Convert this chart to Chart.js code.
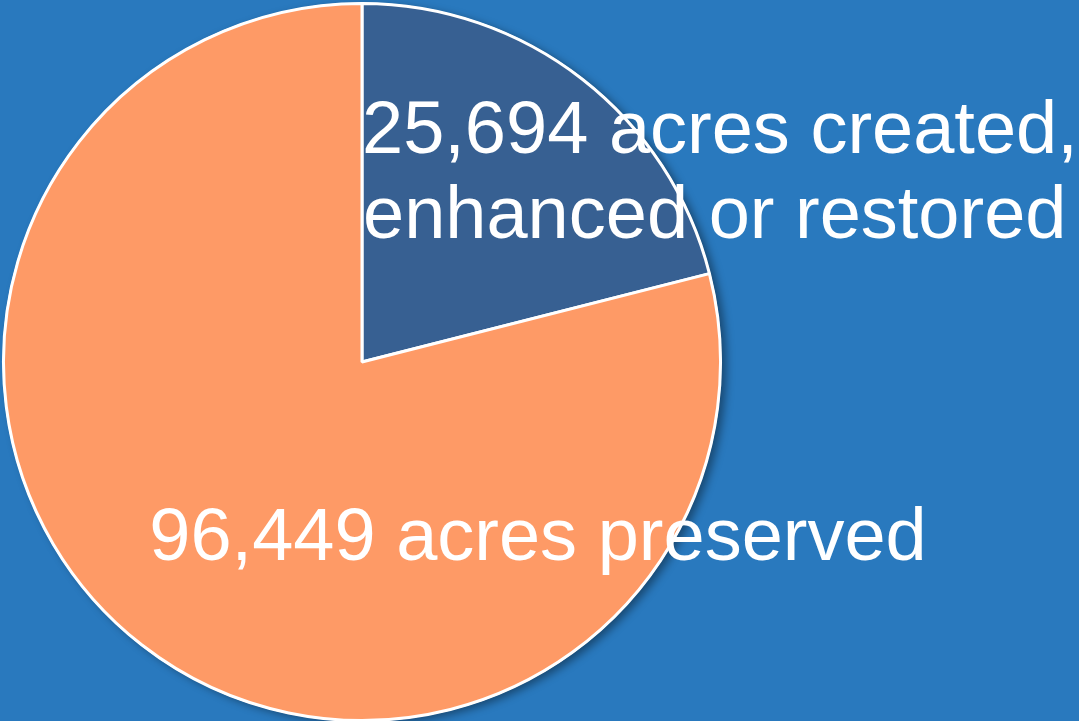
<!DOCTYPE html>
<html lang="en">
<head>
  <meta charset="UTF-8">
  <title>Acres</title>
  <script src="https://cdn.jsdelivr.net/npm/chart.js"></script>
  <style>
    html, body { margin: 0; padding: 0; background: #2979BE; overflow: hidden; }
    #wrap { position: absolute; left: 0; top: 0; width: 1079px; height: 724px; }
  </style>
</head>
<body>
  <div id="wrap"><canvas id="pie" width="1079" height="724"></canvas></div>
  <script>
    // data
    const categories = ["created, enhanced or restored", "preserved"];
    const acres = [25694, 96449];
    const labelLines = [
      ["25,694 acres created,", "enhanced or restored"],
      ["96,449 acres preserved"]
    ];
    const sliceColors = ["#376092", "#FE9A66"];

    // soft shadow behind the pie (drawn once under the slices)
    const shadowPlugin = {
      id: "pieShadow",
      beforeDatasetsDraw(chart) {
        const arc = chart.getDatasetMeta(0).data[0];
        const ctx = chart.ctx;
        ctx.save();
        ctx.shadowColor = "rgba(0,0,0,0.4)";
        ctx.shadowBlur = 8;
        ctx.shadowOffsetX = 5;
        ctx.shadowOffsetY = 3;
        ctx.fillStyle = "#ffffff";
        ctx.beginPath();
        ctx.arc(arc.x, arc.y, arc.outerRadius + 1, 0, Math.PI * 2);
        ctx.fill();
        ctx.restore();
      }
    };

    // big white labels
    const labelPlugin = {
      id: "bigLabels",
      afterDraw(chart) {
        const ctx = chart.ctx;
        const arc = chart.getDatasetMeta(0).data[0];
        const cx = arc.x, cy = arc.y;
        ctx.save();
        ctx.fillStyle = "#ffffff";
        ctx.font = "74px 'Liberation Sans', Arial, sans-serif";
        ctx.textBaseline = "alphabetic";
        ctx.textAlign = "left";
        ctx.fillText(labelLines[0][0], cx + 0, cy - 209);
        ctx.fillText(labelLines[0][1], cx + 1, cy - 124);
        ctx.textAlign = "center";
        ctx.fillText(labelLines[1][0], cx + 176, cy + 198);
        ctx.restore();
      }
    };

    new Chart(document.getElementById("pie").getContext("2d"), {
      type: "pie",
      data: {
        labels: categories,
        datasets: [{
          data: acres,
          backgroundColor: sliceColors,
          borderColor: "#ffffff",
          borderWidth: 3
        }]
      },
      options: {
        responsive: false,
        animation: false,
        layout: { padding: { left: 2, top: 2, right: 357, bottom: 2 } },
        plugins: { legend: { display: false }, tooltip: { enabled: false } }
      },
      plugins: [shadowPlugin, labelPlugin]
    });
  </script>
</body>
</html>
